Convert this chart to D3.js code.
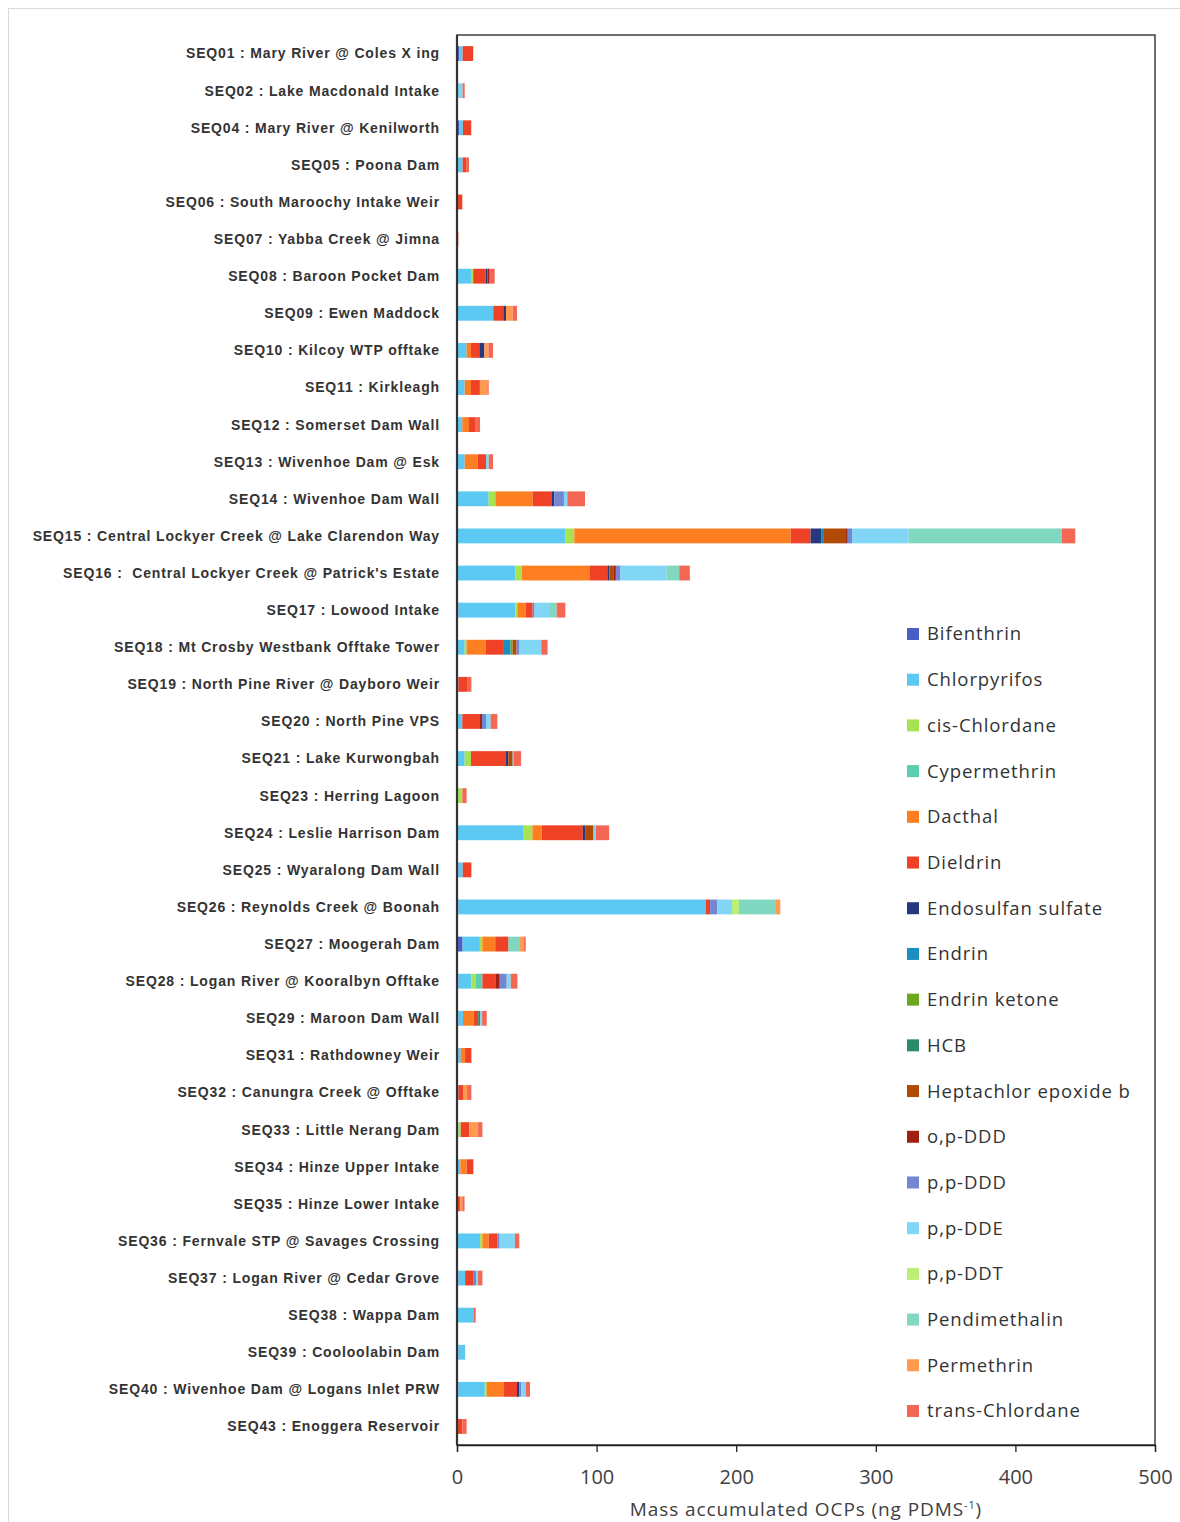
<!DOCTYPE html>
<html><head><meta charset="utf-8">
<script src="https://cdn.jsdelivr.net/npm/d3@7"></script>
<style>body{margin:0;background:#fff}svg{display:block}</style>
</head><body>
<svg id="chart" width="1180" height="1522"></svg>
<script>
const categories = [
"SEQ01 : Mary River @ Coles X ing","SEQ02 : Lake Macdonald Intake","SEQ04 : Mary River @ Kenilworth","SEQ05 : Poona Dam",
"SEQ06 : South Maroochy Intake Weir","SEQ07 : Yabba Creek @ Jimna","SEQ08 : Baroon Pocket Dam","SEQ09 : Ewen Maddock",
"SEQ10 : Kilcoy WTP offtake","SEQ11 : Kirkleagh","SEQ12 : Somerset Dam Wall","SEQ13 : Wivenhoe Dam @ Esk",
"SEQ14 : Wivenhoe Dam Wall","SEQ15 : Central Lockyer Creek @ Lake Clarendon Way","SEQ16 :  Central Lockyer Creek @ Patrick's Estate",
"SEQ17 : Lowood Intake","SEQ18 : Mt Crosby Westbank Offtake Tower","SEQ19 : North Pine River @ Dayboro Weir","SEQ20 : North Pine VPS",
"SEQ21 : Lake Kurwongbah","SEQ23 : Herring Lagoon","SEQ24 : Leslie Harrison Dam","SEQ25 : Wyaralong Dam Wall",
"SEQ26 : Reynolds Creek @ Boonah","SEQ27 : Moogerah Dam","SEQ28 : Logan River @ Kooralbyn Offtake","SEQ29 : Maroon Dam Wall",
"SEQ31 : Rathdowney Weir","SEQ32 : Canungra Creek @ Offtake","SEQ33 : Little Nerang Dam","SEQ34 : Hinze Upper Intake",
"SEQ35 : Hinze Lower Intake","SEQ36 : Fernvale STP @ Savages Crossing","SEQ37 : Logan River @ Cedar Grove","SEQ38 : Wappa Dam",
"SEQ39 : Cooloolabin Dam","SEQ40 : Wivenhoe Dam @ Logans Inlet PRW","SEQ43 : Enoggera Reservoir"];

const seriesNames = ["Bifenthrin","Chlorpyrifos","cis-Chlordane","Cypermethrin","Dacthal","Dieldrin","Endosulfan sulfate","Endrin","Endrin ketone","HCB","Heptachlor epoxide b","o,p-DDD","p,p-DDD","p,p-DDE","p,p-DDT","Pendimethalin","Permethrin","trans-Chlordane"];
const seriesColors = ["#4a5fc4","#5bc9f1","#a6e251","#5ccdb0","#fd7f22","#ee4126","#26387e","#1b8fc0","#6ba81e","#2b8a6c","#b04a05","#a11e12","#7486d2","#80d6f4","#bbee77","#80d8c0","#ff9a50","#f36754"];

const bifenthrin      = [1.5,0,1.5,0,0,0,0,0,0,0, 0,0,0,0,0,1,0,1,0,0, 0,0,1,1,4,1,1,1,1,0, 0,0,0,1,0,1,1,0];
const chlorpyrifos    = [2.5,0,2.7,4,0,0,10,26,6.9,5.5, 3.8,5.5,22.7,77.6,41.8,40.8,5.5,0,3.8,5.5, 0,47.8,3.1,177.2,12.4,9.3,3.3,1.7,0,1, 2.4,0,16.5,4.8,11.7,4.8,18.9,0];
const cisChlordane    = [0,0,0,0,0,0,1.6,0,0,0, 0,0,4.8,6.4,4.5,1.4,1.4,0,0,4.5, 3.8,6.2,0,0,1.7,2.9,0,0,0,1.7, 0,0,1.7,0,0,0,1.4,0];
const cypermethrin    = [0,0,0,0,0,0,0,0,0,0, 0,0,0,0,0,0,0,0,0,0, 0,0,0,0,0,5,0,0,0,0, 0,0,0,0,0,0,0,0];
const dacthal         = [0,0,0,0,0,0,0,0,3.1,4.5, 4.8,9.3,26.7,155,48.5,6.2,13.8,0,0,0, 0,6.7,0,0,9.3,0,7.6,3.1,0,0, 4.5,0,4.5,0,0,0,12.4,0];
const dieldrin        = [7.6,0,6,2.9,3.8,0,9,7.2,6,6.4, 4.8,6,13.8,14.3,12.9,4.8,12.9,6.2,12.7,25.1, 0,29.4,6.2,3.1,9.5,9.3,3.3,4.5,3.3,6.2, 4.8,2.1,6.4,6.2,0,0,9.3,3.8];
const endosulfan      = [0,0,0,0,0,0,1.2,1.9,3.6,0, 0,0,1.7,7.9,1.4,0,0,0,0,1.7, 0,1.7,0,0,0,0,0,0,0,0, 0,0,0,0,0,0,1.7,0];
const endrin          = [0,0,0,0,0,0,0,0,0,0, 0,0,0,1.7,0,0,4.8,0,0,0, 0,0,0,0,0,0,0,0,0,0, 0,0,0,0,0,0,0,0];
const endrinKetone    = [0,0,0,0,0,0,0,0,0,0, 0,0,0,0,0,0,1.4,0,0,0, 0,0,0,0,0,0,0,0,0,0, 0,0,0,0,0,0,0,0];
const hcb             = [0,0,0,0,0,0,0,0,0,0, 0,0,0,0,0,0,0,0,0,0, 0,0,0,0,0,0,1.4,0,0,0, 0,0,0,0,0,0,0,0];
const heptachlor      = [0,0,0,0,0,0,0,0,0,0, 0,0,0,15.8,3.3,0,2.9,0,0,3.1, 0,6,0,0,0,0,0,0,0,0, 0,0,0,0,0,0,0,0];
const opDDD           = [0,0,0,0,0,0,1.6,0,0,0, 0,0,0,1.2,1.4,0,0,0,1.4,0, 0,0,0,0,0,3.1,0,0,0,0, 0,0,0,0,0,0,0,0];
const ppDDD           = [0,0,0,0,0,0,0,0,0,0, 0,0,6.9,3.1,3.3,1.4,1.7,0,2.9,0, 0,0,0,5,0,5,0,0,0,0, 0,0,1.4,1.7,0,0,1.4,0];
const ppDDE           = [0,4,0,0,0,0,0,0,0,0, 0,1.9,2.4,40.6,33,11,16,0,3.3,0.5, 0,1.7,0,10.7,0,2.9,1.4,0,0,0, 0,0,11,1.4,0,0,3.1,0];
const ppDDT           = [0,0,0,0,0,0,0,0,0,0, 0,0,0,0,0,0,0,0,0,0, 0,0,0,5,0,0,0,0,0,0, 0,0,0,0,0,0,0,0];
const pendimethalin   = [0,0,0,0,0,0,0,0,0,0, 0,0,0,109.8,9.1,4.8,0,0,0,0, 0,0,0,26.5,7.6,0,0,0,0,0, 0,0,0,0,0,0,0,0];
const permethrin      = [0,0,0,0,0,0,0,4.8,2.9,5.3, 0,0,0,0,0,0,0,0,0,0, 0,0,0,3.1,3.3,0,0,0,2.9,6.2, 0,1.7,0,0,0,0,0,0];
const transChlordane  = [0,1.5,0,1.7,0,1,3.6,3.1,3.3,1, 3.1,3.1,12.7,9.5,7.6,6.2,4.5,3.1,4.8,5.5, 3.1,9.5,0,0,1.4,4.8,3.3,0,3.1,3.1, 0,1.6,3.1,3.1,1.7,0,3.1,3.1];

const xTicks = [0,100,200,300,400,500];
const xTitle = "Mass accumulated OCPs (ng PDMS";
const xTitleSup = "-1";

const seriesValues = [bifenthrin,chlorpyrifos,cisChlordane,cypermethrin,dacthal,dieldrin,endosulfan,endrin,endrinKetone,hcb,heptachlor,opDDD,ppDDD,ppDDE,ppDDT,pendimethalin,permethrin,transChlordane];

const table = categories.map((c,i)=>{
  const row = {cat:c};
  seriesNames.forEach((s,j)=>row[s]=seriesValues[j][i]);
  return row;
});

const svg = d3.select("#chart");
const L=457, R=1155, T=35, B=1445;

// outer frame
svg.append("rect").attr("x",8.5).attr("y",8.5).attr("width",1185).attr("height",1530)
  .attr("fill","none").attr("stroke","#d9d9d9").attr("stroke-width",1);

const x = d3.scaleLinear().domain([0,500]).range([L,R]);
const y = d3.scaleBand().domain(categories).range([T,B]).paddingInner(0.6).paddingOuter(0.3);

const stack = d3.stack().keys(seriesNames)(table);
const color = d3.scaleOrdinal().domain(seriesNames).range(seriesColors);

svg.append("g").selectAll("g").data(stack).join("g")
  .attr("fill",d=>color(d.key))
  .selectAll("rect").data(d=>d).join("rect")
  .attr("x",d=>x(d[0])).attr("width",d=>Math.max(0,x(d[1])-x(d[0])))
  .attr("y",d=>y(d.data.cat)).attr("height",y.bandwidth());

// plot frame
svg.append("rect").attr("x",L).attr("y",T).attr("width",R-L).attr("height",B-T)
  .attr("fill","none").attr("stroke","#222").attr("stroke-width",1.3);
svg.append("line").attr("x1",L).attr("x2",L).attr("y1",T).attr("y2",B).attr("stroke","#333").attr("stroke-width",2.2);

// x axis
const xa = svg.append("g").attr("transform",`translate(0,${B})`)
  .call(d3.axisBottom(x).tickValues(xTicks).tickSize(7).tickPadding(18).tickFormat(d3.format("d")));
xa.select(".domain").attr("stroke","#222").attr("stroke-width",1.3);
xa.selectAll(".tick line").attr("stroke","#222").attr("stroke-width",1.3);
xa.selectAll(".tick text").attr("font-family","'Open Sans', sans-serif").attr("font-size",20).attr("fill","#404040");

const tt = svg.append("text").attr("x",(L+R)/2).attr("y",1516).attr("text-anchor","middle")
  .attr("font-family","'Open Sans', sans-serif").attr("font-size",19).attr("letter-spacing",0.9).attr("fill","#404040");
tt.append("tspan").text(xTitle);
tt.append("tspan").attr("font-size",11).attr("dy",-7).text(xTitleSup);
tt.append("tspan").attr("dy",7).text(")");

// category labels
svg.append("g").selectAll("text").data(categories).join("text")
  .attr("x",440).attr("y",d=>y(d)+y.bandwidth()/2).attr("dy","0.35em")
  .attr("text-anchor","end").attr("font-family","'Liberation Sans', Arial, sans-serif")
  .attr("font-weight","bold").attr("font-size",14).attr("letter-spacing",0.85).attr("fill","#333")
  .style("white-space","pre").attr("xml:space","preserve")
  .text(d=>d);

// legend
const lg = svg.append("g");
const ly = d3.scalePoint().domain(seriesNames).range([634,1411]);
lg.selectAll("rect").data(seriesNames).join("rect")
  .attr("x",907).attr("y",d=>ly(d)-6).attr("width",12).attr("height",12).attr("fill",d=>color(d));
lg.selectAll("text").data(seriesNames).join("text")
  .attr("x",927).attr("y",d=>ly(d)).attr("dy","0.35em")
  .attr("font-family","'Open Sans', sans-serif").attr("font-size",18.5).attr("letter-spacing",0.9).attr("fill","#333")
  .text(d=>d);
</script>
</body></html>
